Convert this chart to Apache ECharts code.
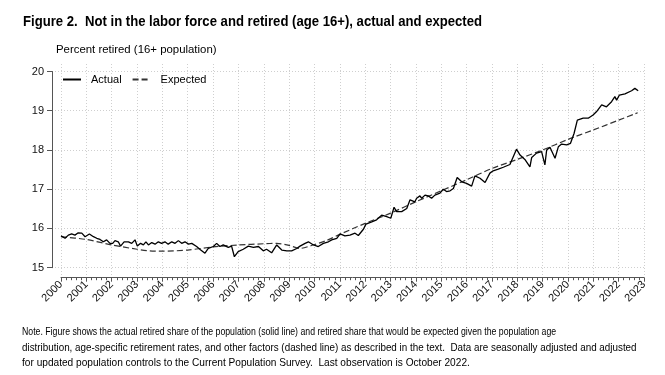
<!DOCTYPE html>
<html>
<head>
<meta charset="utf-8">
<script src="https://cdn.jsdelivr.net/npm/echarts@6/dist/echarts.min.js"></script>
<style>html,body{margin:0;padding:0;background:#fff;}#c{width:665px;height:375px;}</style>
</head>
<body>
<div id="c"></div>
<script>
const titleText = 'Figure 2.  Not in the labor force and retired (age 16+), actual and expected';
const yAxisTitle = 'Percent retired (16+ population)';
const noteLines = [
  'Note. Figure shows the actual retired share of the population (solid line) and retired share that would be expected given the population age',
  'distribution, age-specific retirement rates, and other factors (dashed line) as described in the text.  Data are seasonally adjusted and adjusted',
  'for updated population controls to the Current Population Survey.  Last observation is October 2022.'
];
const seriesNames = ['Actual', 'Expected'];
const xTicks = [2000,2001,2002,2003,2004,2005,2006,2007,2008,2009,2010,2011,2012,2013,2014,2015,2016,2017,2018,2019,2020,2021,2022,2023];
const yTicks = [15,16,17,18,19,20];

const actualTime = [
  2000.00,2000.16,2000.29,2000.42,2000.55,2000.68,2000.82,2000.95,
  2001.01,2001.12,2001.28,2001.41,2001.54,2001.67,2001.80,2001.93,
  2002.04,2002.13,2002.26,2002.35,2002.49,2002.66,2002.79,2002.92,
  2003.01,2003.14,2003.25,2003.35,2003.45,2003.58,2003.71,2003.84,2003.97,
  2004.10,2004.23,2004.37,2004.50,2004.63,2004.76,2004.89,
  2005.03,2005.16,2005.35,2005.50,2005.68,2005.81,
  2006.01,2006.14,2006.27,2006.40,2006.60,2006.73,2006.84,2006.99,
  2007.19,2007.39,2007.59,2007.79,2007.98,
  2008.11,2008.31,2008.51,2008.71,2008.91,
  2009.10,2009.30,2009.43,2009.63,2009.76,2009.96,
  2010.15,2010.35,2010.55,2010.68,2010.88,
  2011.01,2011.20,2011.40,2011.60,2011.73,2011.93,
  2012.03,2012.26,2012.45,2012.65,2012.85,
  2013.01,2013.14,2013.24,2013.44,2013.64,2013.77,2013.96,
  2014.03,2014.16,2014.23,2014.36,2014.49,2014.62,2014.75,2014.95,
  2015.08,2015.21,2015.35,2015.48,2015.63,2015.81,
  2016.00,2016.20,2016.33,2016.53,2016.73,2016.92,
  2017.05,2017.25,2017.45,2017.71,2017.97,
  2018.11,2018.30,2018.50,2018.57,2018.76,2018.96,
  2019.09,2019.16,2019.29,2019.49,2019.62,2019.75,2019.95,
  2020.10,2020.24,2020.37,2020.60,2020.80,2020.99,
  2021.13,2021.33,2021.52,2021.72,2021.85,2021.92,
  2022.03,2022.25,2022.51,2022.64,2022.77
];
const actualValue = [
  15.81,15.75,15.83,15.86,15.83,15.89,15.88,15.79,
  15.75,15.86,15.79,15.75,15.72,15.66,15.71,15.62,
  15.62,15.69,15.66,15.55,15.66,15.66,15.62,15.71,
  15.55,15.62,15.58,15.66,15.58,15.64,15.60,15.66,15.62,
  15.66,15.60,15.66,15.62,15.69,15.62,15.66,
  15.60,15.62,15.54,15.46,15.37,15.49,
  15.54,15.62,15.54,15.58,15.52,15.55,15.28,15.41,
  15.47,15.55,15.52,15.54,15.43,
  15.47,15.38,15.58,15.45,15.43,
  15.43,15.49,15.55,15.62,15.66,15.58,
  15.54,15.62,15.66,15.71,15.75,
  15.86,15.81,15.83,15.88,15.82,15.98,
  16.11,16.17,16.22,16.34,16.30,
  16.26,16.54,16.43,16.43,16.51,16.73,16.68,
  16.77,16.83,16.77,16.85,16.83,16.77,16.85,16.90,
  17.00,16.94,16.96,17.02,17.30,17.19,
  17.15,17.08,17.34,17.28,17.17,17.41,
  17.47,17.51,17.56,17.63,18.02,
  17.87,17.76,17.57,17.81,17.92,17.96,
  17.62,18.00,18.07,17.79,18.08,18.15,18.13,
  18.17,18.42,18.76,18.81,18.81,18.89,
  18.98,19.15,19.10,19.23,19.36,19.27,
  19.40,19.43,19.51,19.57,19.51
];
const expectedTime = [2000.0,2001.0,2002.0,2003.0,2003.5,2004.0,2005.0,2006.0,2007.0,2008.0,2008.5,2009.0,2009.4,2010.0,2010.5,2011.0,2012.0,2013.0,2014.0,2015.0,2016.0,2017.0,2018.0,2019.0,2020.0,2021.0,2022.0,2022.75];
const expectedValue = [15.79,15.72,15.58,15.47,15.43,15.42,15.45,15.53,15.58,15.61,15.62,15.57,15.49,15.59,15.70,15.85,16.13,16.39,16.68,16.96,17.24,17.53,17.76,18.00,18.27,18.51,18.76,18.95];

const actualData = actualTime.map((t, i) => [t, actualValue[i]]);
const expectedData = expectedTime.map((t, i) => [t, expectedValue[i]]);

const chart = echarts.init(document.getElementById('c'), null, {renderer: 'canvas'});
const axisFont = "'Liberation Sans', Arial, sans-serif";
const gridLine = {show: true, lineStyle: {color: '#cfcfcf', width: 1, type: [1, 2]}};
const noteScale = [0.78, 0.88, 0.905];

const textEls = [
  {type: 'text', x: 23, y: 22, scaleX: 0.905, z: 10,
   style: {text: titleText, font: "bold 14.5px 'Liberation Sans', Arial, sans-serif", fill: '#000', textVerticalAlign: 'middle', textAlign: 'left'}}
].concat(noteLines.map((line, i) => ({
  type: 'text', x: 22, y: 332 + i * 15.5, scaleX: noteScale[i], z: 10,
  style: {text: line, font: "11.2px 'Liberation Sans', Arial, sans-serif", fill: '#000', textVerticalAlign: 'middle', textAlign: 'left'}
})));

chart.setOption({
  animation: false,
  backgroundColor: '#fff',
  title: [
    {text: yAxisTitle, left: 51, top: 39, textStyle: {fontFamily: axisFont, fontWeight: 'normal', fontSize: 11.4, color: '#000'}}
  ],
  graphic: {elements: textEls},
  legend: {
    left: 57, top: 69, itemWidth: 18, itemHeight: 10, itemGap: 10,
    data: seriesNames,
    itemStyle: {opacity: 0},
    textStyle: {fontFamily: axisFont, fontSize: 11, color: '#000', padding: [0, 0, 0, 5]}
  },
  grid: [
    {left: 61, right: 21, top: 71.5, height: 196.2, containLabel: false},
    {left: 52, right: 21, top: 64, height: 213.7, containLabel: false}
  ],
  xAxis: [
    {
      type: 'value', gridIndex: 0, min: 2000, max: 2023, interval: 1, offset: 10,
      axisLine: {show: true, lineStyle: {color: '#555', width: 1}},
      axisTick: {show: true, length: 4, lineStyle: {color: '#555'}},
      minorTick: {show: true, splitNumber: 5, length: 2.5, lineStyle: {color: '#555'}},
      splitLine: {show: false},
      axisLabel: {rotate: 45, margin: 5, fontFamily: axisFont, fontSize: 11, color: '#111', formatter: v => String(v)}
    },
    {
      type: 'value', gridIndex: 1, min: 2000 - 9 / 25.35, max: 2023,
      axisLine: {show: false}, axisLabel: {show: false},
      axisTick: {show: false, customValues: xTicks},
      splitLine: gridLine
    }
  ],
  yAxis: [
    {
      type: 'value', gridIndex: 0, min: 15, max: 20, interval: 1, offset: 9,
      axisLine: {show: true, lineStyle: {color: '#555', width: 1}},
      axisTick: {show: true, length: 5, lineStyle: {color: '#555'}},
      splitLine: {show: false},
      axisLabel: {margin: 8, fontFamily: axisFont, fontSize: 11, color: '#111'}
    },
    {
      type: 'value', gridIndex: 1, min: 15 - 10 / 39.24, max: 20 + 7.5 / 39.24,
      axisLine: {show: false}, axisLabel: {show: false},
      axisTick: {show: false, customValues: yTicks},
      splitLine: gridLine
    }
  ],
  series: [
    {
      name: seriesNames[0], type: 'line', xAxisIndex: 0, yAxisIndex: 0, data: actualData,
      showSymbol: false, symbol: 'none', z: 3,
      lineStyle: {color: '#000', width: 1.3}, itemStyle: {color: '#000'}
    },
    {
      name: seriesNames[1], type: 'line', xAxisIndex: 0, yAxisIndex: 0, data: expectedData,
      showSymbol: false, symbol: 'none', smooth: 0.25, z: 2,
      lineStyle: {color: '#333', width: 1.2, type: [6, 3]}, itemStyle: {color: '#333'}
    }
  ]
});
</script>
</body>
</html>
